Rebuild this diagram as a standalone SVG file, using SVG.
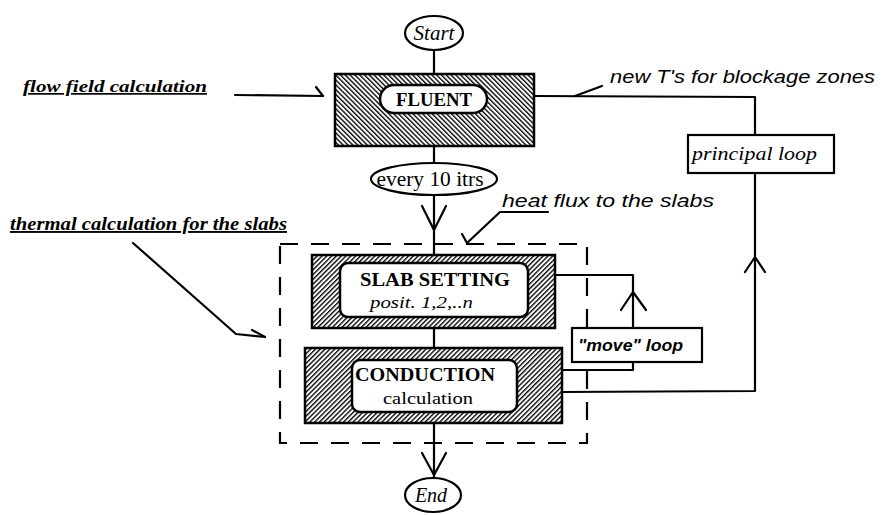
<svg xmlns="http://www.w3.org/2000/svg" width="887" height="515" viewBox="0 0 887 515">
<style>
.ln{fill:none;stroke:#000;stroke-width:2.2;stroke-linecap:round;stroke-linejoin:round}
.box{stroke:#000;stroke-width:2.5}
.inner{fill:#fff;stroke:#000;stroke-width:2.5}
.lbl{fill:#fff;stroke:#000;stroke-width:2.2}
.serif{font-family:"Liberation Serif","Times New Roman",serif;fill:#000}
.sans{font-family:"Liberation Sans",Arial,sans-serif;font-style:italic;fill:#000}
.dash{fill:none;stroke:#000;stroke-width:2.2;stroke-dasharray:18 13}
</style>
<defs>
<pattern id="hb" width="3.4" height="3.4" patternUnits="userSpaceOnUse" patternTransform="rotate(45)">
<rect width="3.4" height="3.4" fill="#fff"/><line x1="0" y1="0" x2="0" y2="3.4" stroke="#000" stroke-width="2.7"/>
</pattern>
<pattern id="hf" width="3.4" height="3.4" patternUnits="userSpaceOnUse" patternTransform="rotate(-45)">
<rect width="3.4" height="3.4" fill="#fff"/><line x1="0" y1="0" x2="0" y2="3.4" stroke="#000" stroke-width="2.7"/>
</pattern>
</defs>

<g id="connectors">
<line class="ln" x1="434" y1="50" x2="434" y2="74"/>
<line class="ln" x1="434" y1="146" x2="434" y2="163"/>
<line class="ln" x1="434" y1="195" x2="434" y2="255"/>
<polyline class="ln" points="422,206 434,230 446,206"/>
<line class="ln" x1="434" y1="328" x2="434" y2="348"/>
<line class="ln" x1="434" y1="423" x2="434" y2="478"/>
<polyline class="ln" points="422,453 434,475 446,453"/>
<line class="ln" x1="235" y1="95" x2="323" y2="96"/>
<line class="ln" x1="316" y1="87" x2="323" y2="96"/>
<polyline class="ln" points="534,96 755,97 755,135"/>
<line class="ln" x1="575" y1="96" x2="602" y2="86"/>
<polyline class="ln" points="562,392 755,391 755,173"/>
<polyline class="ln" points="745,272 755,257 765,272"/>
<polyline class="ln" points="555,275 633,275 633,328"/>
<polyline class="ln" points="621,310 633,292 646,310"/>
<polyline class="ln" points="633,362 633,370 562,370"/>
<polyline class="ln" points="548,212 500,212 467,243"/>
<line class="ln" x1="462" y1="234" x2="467" y2="243"/>
<polyline class="ln" points="133,243 236,334 265,337"/>
<line class="ln" x1="252" y1="330" x2="265" y2="337"/>
</g>

<g id="dashed-region">
<rect class="dash" x="280" y="244" width="307" height="199"/>
</g>

<g id="start">
<ellipse class="lbl" cx="434" cy="33" rx="29" ry="17"/>
<text class="serif" x="434" y="40" font-size="21" font-style="italic" text-anchor="middle">Start</text>
</g>

<g id="fluent">
<rect class="box" x="335" y="74" width="199" height="72" fill="url(#hf)"/>
<rect class="inner" x="380" y="85" width="107" height="28" rx="14"/>
<text class="serif" x="434" y="106" font-size="19" font-weight="bold" text-anchor="middle" textLength="76" lengthAdjust="spacingAndGlyphs">FLUENT</text>
</g>

<g id="every10">
<ellipse class="lbl" cx="434" cy="179" rx="63" ry="16"/>
<text class="serif" x="430" y="186" font-size="20" text-anchor="middle" textLength="107" lengthAdjust="spacingAndGlyphs">every 10 itrs</text>
</g>

<g id="slab">
<rect class="box" x="312" y="255" width="243" height="73" fill="url(#hb)"/>
<rect class="inner" x="340" y="263" width="188" height="54" rx="8"/>
<text class="serif" x="435" y="286" font-size="19" font-weight="bold" text-anchor="middle" textLength="150" lengthAdjust="spacingAndGlyphs">SLAB SETTING</text>
<text class="serif" x="370" y="308" font-size="17" font-style="italic" textLength="103" lengthAdjust="spacingAndGlyphs">posit. 1,2,..n</text>
</g>

<g id="conduction">
<rect class="box" x="305" y="348" width="257" height="75" fill="url(#hb)"/>
<rect class="inner" x="352" y="360" width="165" height="52" rx="8"/>
<text class="serif" x="425" y="381" font-size="19" font-weight="bold" text-anchor="middle" textLength="140" lengthAdjust="spacingAndGlyphs">CONDUCTION</text>
<text class="serif" x="428" y="404" font-size="17" text-anchor="middle" textLength="90" lengthAdjust="spacingAndGlyphs">calculation</text>
</g>

<g id="end">
<ellipse class="lbl" cx="433" cy="495" rx="28" ry="17"/>
<text class="serif" x="431" y="502" font-size="20" font-style="italic" text-anchor="middle">End</text>
</g>

<g id="principal-loop">
<rect class="lbl" x="688" y="135" width="146" height="38"/>
<text class="serif" x="692" y="160" font-size="18" font-style="italic" textLength="125" lengthAdjust="spacingAndGlyphs">principal loop</text>
</g>

<g id="move-loop">
<rect class="lbl" x="572" y="328" width="130" height="34"/>
<text class="sans" x="578" y="351" font-size="16" font-weight="bold" textLength="105" lengthAdjust="spacingAndGlyphs">"move" loop</text>
</g>

<g id="annotations">
<text class="serif" x="23" y="92" font-size="17" font-style="italic" font-weight="bold" text-decoration="underline" textLength="184" lengthAdjust="spacingAndGlyphs">flow  field calculation</text>
<text class="serif" x="10" y="230" font-size="19" font-style="italic" font-weight="bold" text-decoration="underline" textLength="277" lengthAdjust="spacingAndGlyphs">thermal calculation for the slabs</text>
<text class="sans" x="610" y="83" font-size="19" textLength="265" lengthAdjust="spacingAndGlyphs">new T's for blockage zones</text>
<text class="sans" x="502" y="207" font-size="19" textLength="212" lengthAdjust="spacingAndGlyphs">heat flux to the slabs</text>
</g>
</svg>
